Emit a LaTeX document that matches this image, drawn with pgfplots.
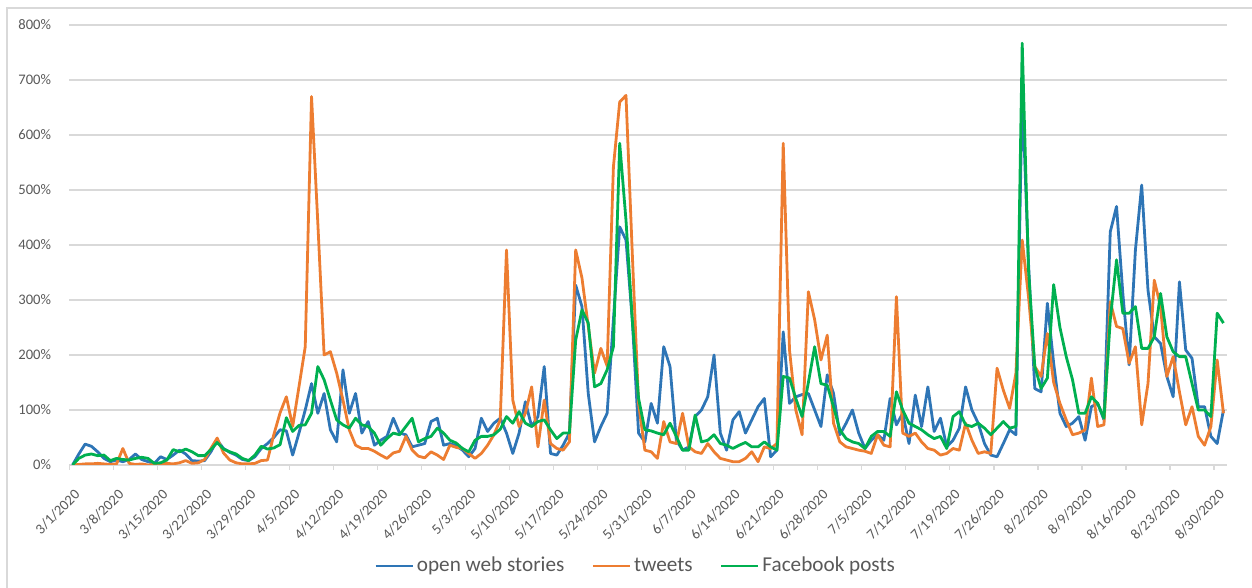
\documentclass[border=0pt]{standalone}
\usepackage{pgfplots}
\pgfplotsset{compat=1.18}
\usepackage{pgfplotstable}
\usepackage{fontspec}
\setmainfont{Carlito}

\definecolor{cWeb}{HTML}{2E75B6}
\definecolor{cTw}{HTML}{ED7D31}
\definecolor{cFb}{HTML}{00B050}
\definecolor{cGrid}{HTML}{D9D9D9}
\definecolor{cTxt}{HTML}{595959}

% day index from 3/1/2020, values in percent
\pgfplotstableread{
d web tw fb
0 0 0 0
1 20 1 12
2 38 2 18
3 34 2 20
4 24 3 17
5 12 2 18
6 6 1 8
7 9 2 12
8 6 30 10
9 10 3 9
10 20 1 12
11 10 2 14
12 6 0 12
13 3 1 3
14 15 2 4
15 10 3 9
16 18 2 28
17 27 4 24
18 20 8 29
19 8 3 24
20 7 4 17
21 8 10 17
22 24 30 28
23 45 49 41
24 30 22 29
25 23 9 24
26 18 4 20
27 10 2 12
28 8 2 8
29 15 3 18
30 30 8 34
31 39 9 29
32 50 55 31
33 64 95 37
34 62 124 86
35 18 70 61
36 58 142 72
37 100 215 73
38 148 670 94
39 94 440 179
40 130 200 155
41 64 206 118
42 42 167 82
43 173 118 73
44 94 64 67
45 130 36 85
46 58 30 73
47 79 30 70
48 36 25 58
49 45 18 36
50 52 12 48
51 85 22 58
52 58 25 55
53 55 52 70
54 33 27 85
55 36 16 42
56 39 13 48
57 79 24 52
58 85 18 67
59 36 10 58
60 39 36 45
61 35 32 40
62 27 30 30
63 15 21 24
64 30 12 45
65 85 21 52
66 61 36 52
67 76 55 55
68 85 82 65
69 58 391 88
70 21 118 76
71 58 70 97
72 115 94 76
73 70 142 70
74 88 33 79
75 179 118 82
76 21 39 64
77 18 30 48
78 36 27 58
79 58 42 58
80 327 391 227
81 288 340 282
82 130 252 258
83 42 167 142
84 70 212 148
85 94 180 173
86 264 542 215
87 433 660 585
88 409 672 445
89 264 385 264
90 58 112 121
91 42 27 64
92 112 24 62
93 76 12 58
94 215 79 55
95 179 42 76
96 45 39 52
97 27 94 27
98 33 33 27
99 88 24 91
100 100 21 42
101 124 39 45
102 200 24 55
103 58 12 39
104 27 9 36
105 82 6 30
106 97 6 36
107 58 12 41
108 82 24 33
109 106 6 33
110 121 33 42
111 15 30 33
112 27 39 27
113 242 585 161
114 112 209 158
115 124 100 121
116 128 55 88
117 130 315 150
118 100 264 215
119 70 191 148
120 164 236 145
121 130 76 106
122 55 42 64
123 76 33 48
124 100 30 42
125 58 27 39
126 30 25 30
127 45 21 52
128 55 55 61
129 45 36 61
130 121 33 52
131 73 306 133
132 94 58 100
133 39 52 76
134 127 58 70
135 70 42 64
136 142 30 55
137 61 27 48
138 85 18 52
139 33 21 30
140 45 30 88
141 67 27 97
142 142 76 73
143 100 45 70
144 76 21 76
145 39 24 67
146 18 21 55
147 15 176 67
148 39 136 79
149 64 103 67
150 55 167 70
151 680 409 767
152 367 306 355
153 139 179 179
154 133 161 139
155 294 239 158
156 185 150 328
157 94 112 250
158 70 82 197
159 76 55 155
160 88 58 94
161 45 64 94
162 106 158 124
163 112 70 112
164 82 73 85
165 424 297 264
166 470 252 373
167 312 248 276
168 182 185 276
169 391 215 288
170 509 73 212
171 318 148 212
172 233 336 233
173 221 288 312
174 161 161 233
175 124 197 206
176 333 133 197
177 209 73 197
178 194 106 148
179 106 52 100
180 106 36 100
181 52 70 88
182 39 191 276
183 100 94 258
}\data

\begin{document}
\begin{tikzpicture}
\useasboundingbox (0,0) rectangle (626pt,294pt);
\draw[cGrid, line width=0.6pt] (3.5pt,0pt) -- (3.5pt,290pt) -- (626pt,290pt);
\begin{axis}[
    at={(34.7pt,61.5pt)}, anchor=south west,
    scale only axis,
    width=578.6pt, height=220pt,
    xmin=0, xmax=184,
    ymin=0, ymax=800,
    xtick={0,7,...,182},
    xticklabels={3/1/2020,3/8/2020,3/15/2020,3/22/2020,3/29/2020,4/5/2020,4/12/2020,4/19/2020,4/26/2020,5/3/2020,5/10/2020,5/17/2020,5/24/2020,5/31/2020,6/7/2020,6/14/2020,6/21/2020,6/28/2020,7/5/2020,7/12/2020,7/19/2020,7/26/2020,8/2/2020,8/9/2020,8/16/2020,8/23/2020,8/30/2020},
    ytick={0,100,...,800},
    yticklabels={0\%,100\%,200\%,300\%,400\%,500\%,600\%,700\%,800\%},
    ymajorgrids,
    major grid style={cGrid, line width=0.6pt},
    axis x line*=bottom,
    axis y line*=left,
    x axis line style={cGrid, line width=0.6pt, -},
    y axis line style={draw=none},
    xtick style={cGrid, line width=0.6pt},
    ytick style={draw=none},
    tick align=outside,
    major tick length=2.5pt,
    ticklabel style={font=\fontsize{7.3}{8}\selectfont, text=cTxt},
    yticklabel style={anchor=east, inner sep=0pt, xshift=-6.5pt},
    xticklabel style={xshift=4pt, yshift=-11pt, rotate=45, anchor=east, inner sep=0pt},
    legend columns=3,
    legend cell align=left,
    legend image code/.code={\draw[#1] (0pt,0pt) -- (18.5pt,0pt);},
    legend style={draw=none, fill=none, at={(0.4888,-0.2295)}, anchor=center,
        font=\fontsize{10.6}{12}\selectfont, text=cTxt,
        nodes={inner sep=0.5pt},
        /tikz/every even column/.append style={column sep=13pt},
        /tikz/every odd column/.append style={column sep=1pt}},
    every axis plot/.append style={line width=1.4pt, line join=round},
]
\addplot[cWeb] table[x expr=\thisrow{d}+0.5, y=web] {\data};
\addlegendentry{open web stories}
\addplot[cTw] table[x expr=\thisrow{d}+0.5, y=tw] {\data};
\addlegendentry{tweets}
\addplot[cFb] table[x expr=\thisrow{d}+0.5, y=fb] {\data};
\addlegendentry{Facebook posts}
\end{axis}
\end{tikzpicture}
\end{document}
